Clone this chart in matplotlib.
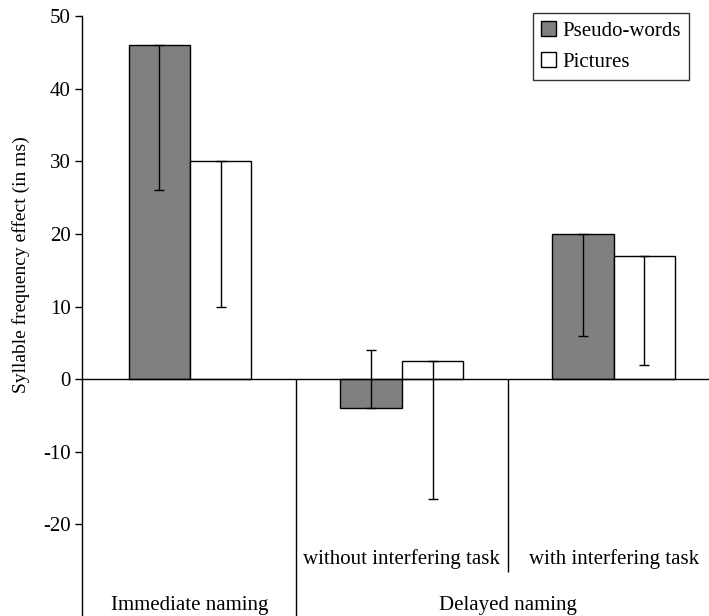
import matplotlib.pyplot as plt
import numpy as np

plt.rcParams['font.family'] = ['Liberation Serif', 'DejaVu Serif']
plt.rcParams['axes.unicode_minus'] = False

# data
conditions = ['Immediate', 'Delayed, without task', 'Delayed, with task']
series = ['Pseudo-words', 'Pictures']
pseudo_vals = [46, -4, 20]
picture_vals = [30, 2.5, 17]
# error bars are drawn one way only: (down, up)
pseudo_err_down = [20, 0, 14]
pseudo_err_up = [0, 8, 0]
picture_err_down = [20, 19, 15]
picture_err_up = [0, 0, 0]
sub_labels = ['without interfering task', 'with interfering task']
group_labels = ['Immediate naming', 'Delayed naming']
yticks = [50, 40, 30, 20, 10, 0, -10, -20]

fig = plt.figure(figsize=(7.09, 6.16), dpi=100)
ax = fig.add_axes([82 / 709, 0, 1 - 82 / 709, 1 - 16 / 616])

x = np.arange(len(conditions))
w = 0.29
ax.bar(x - w / 2, pseudo_vals, w, color='#808080', edgecolor='black',
       linewidth=1, label=series[0], zorder=2)
ax.bar(x + w / 2, picture_vals, w, color='white', edgecolor='black',
       linewidth=1, label=series[1], zorder=2)
ax.errorbar(x - w / 2, pseudo_vals, yerr=[pseudo_err_down, pseudo_err_up],
            fmt='none', ecolor='black', elinewidth=1, capsize=3.6, zorder=3)
ax.errorbar(x + w / 2, picture_vals, yerr=[picture_err_down, picture_err_up],
            fmt='none', ecolor='black', elinewidth=1, capsize=3.6, zorder=3)

ymin = -32.6
ax.set_xlim(-0.51, 2.45)
ax.set_ylim(ymin, 50)
ax.axhline(0, color='black', linewidth=1, zorder=4)
ax.vlines(0.5, ymin, 0, color='black', linewidth=1)
ax.vlines(1.5, -26.6, 0, color='black', linewidth=1)

for xi, lab in zip(x[1:], sub_labels):
    ax.text(xi, -24.8, lab, ha='center', va='center', fontsize=15)
ax.text(0, -31.2, group_labels[0], ha='center', va='center', fontsize=15)
ax.text(1.5, -31.2, group_labels[1], ha='center', va='center', fontsize=15)

for s in ['top', 'right', 'bottom']:
    ax.spines[s].set_visible(False)
ax.spines['left'].set_linewidth(1)
ax.set_xticks([])
ax.set_yticks(yticks)
ax.tick_params(axis='y', direction='out', length=5, width=1, labelsize=15, pad=3)

fig.text(21 / 709, 1 - 265 / 616, 'Syllable frequency effect (in ms)',
         rotation=90, ha='center', va='center', fontsize=14)

leg = ax.legend(loc='upper right', bbox_to_anchor=(689 / 709, 1 - 13 / 616),
                bbox_transform=fig.transFigure, borderaxespad=0,
                fontsize=15, frameon=True, fancybox=False,
                edgecolor='black', handlelength=0.7, handleheight=0.7,
                handletextpad=0.3, labelspacing=0.55, borderpad=0.4)
leg.get_frame().set_linewidth(1)

fig.savefig('out.png', dpi=100)
